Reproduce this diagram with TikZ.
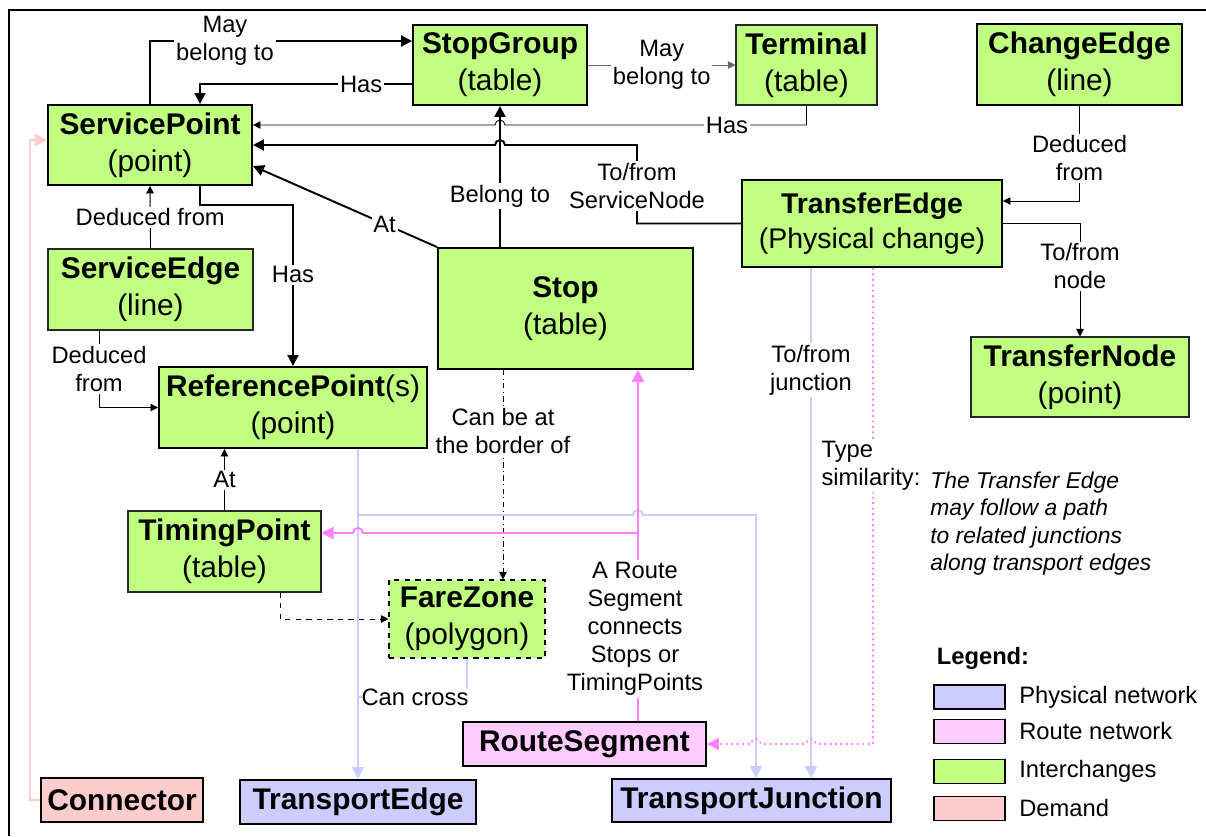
\documentclass[tikz,border=0pt]{standalone}
\usepackage{fontspec}
\setmainfont{Liberation Sans}
\usetikzlibrary{arrows.meta,positioning}

\definecolor{ichg}{RGB}{192,255,128}
\definecolor{phys}{RGB}{204,204,255}
\definecolor{route}{RGB}{255,204,255}
\definecolor{routeline}{RGB}{255,128,255}
\definecolor{demand}{RGB}{255,204,204}

\begin{document}
\begin{tikzpicture}[
  x=0.2mm, y=-0.2mm,
  >={Triangle[length=2.2mm,width=2.2mm]},
  box/.style={draw, line width=1.1pt, fill=ichg, align=center, inner sep=0pt,
              font=\fontsize{17}{21}\selectfont},
  thinbox/.style={box, line width=0.6pt, draw=black!85},
  lbl/.style={fill=white, inner sep=1pt, align=center,
              font=\fontsize{13.5}{16}\selectfont},
  note/.style={inner sep=0pt, align=left, font=\fontsize{13}{15.7}\selectfont\itshape},
  arrow/.style={->, line width=1.1pt},
  thinarrow/.style={-{Triangle[length=1.5mm,width=1.5mm]}, line width=0.5pt},
  physline/.style={line width=1.1pt, draw=phys},
  physarrow/.style={physline, -{Triangle[length=2.4mm,width=2.4mm]}},
  routearrow/.style={line width=1.1pt, draw=routeline, -{Triangle[length=2.4mm,width=2.4mm]}},
  routedot/.style={routearrow, dotted},
  demandarrow/.style={line width=1.1pt, draw=demand, -{Triangle[length=2.4mm,width=2.4mm]}},
  lgbox/.style={draw, line width=1.1pt, minimum width=14.2mm, minimum height=4.8mm, inner sep=0pt},
  lgtxt/.style={inner sep=0pt, font=\fontsize{13.5}{16}\selectfont},
]
  \useasboundingbox (0,0) rectangle (1206,836);
  \draw[line width=1.4pt] (9,836) -- (9,10) -- (1206,10);

  % interchange entities
  \node[box, minimum width=40.8mm, minimum height=16mm] (sp) at (150,145)
    {\textbf{ServicePoint}\\(point)};
  \node[box, minimum width=34.8mm, minimum height=16mm] (sg) at (500,65)
    {\textbf{StopGroup}\\(table)};
  \node[thinbox, minimum width=28.2mm, minimum height=16mm] (term) at (806.5,65)
    {\textbf{Terminal}\\(table)};
  \node[box, minimum width=41mm, minimum height=16.2mm] (chg) at (1079.5,64.5)
    {\textbf{ChangeEdge}\\(line)};
  \node[box, minimum width=52mm, minimum height=17.4mm,
        font=\fontsize{16.2}{20}\selectfont] (tre) at (872,223.5)
    {\textbf{TransferEdge}\\(Physical change)};
  \node[thinbox, minimum width=43.6mm, minimum height=16mm] (trn) at (1080,377)
    {\textbf{TransferNode}\\(point)};
  \node[thinbox, minimum width=41mm, minimum height=16.2mm] (se) at (150.5,289.5)
    {\textbf{ServiceEdge}\\(line)};
  \node[box, minimum width=53.6mm, minimum height=16.2mm] (rp) at (293,407.5)
    {\textbf{ReferencePoint}(s)\\(point)};
  \node[box, minimum width=51mm, minimum height=24.2mm] (stop) at (565.5,308.5)
    {\textbf{Stop}\\(table)};
  \node[thinbox, minimum width=38.6mm, minimum height=16.2mm] (tp) at (224.5,551.5)
    {\textbf{TimingPoint}\\(table)};
  \node[box, line width=0.6pt, dashed, minimum width=31.2mm, minimum height=15.6mm] (fz)
    at (467,619) {\textbf{FareZone}\\(polygon)};

  % network entities
  \node[box, fill=route, minimum width=48.6mm, minimum height=8.8mm] (rs) at (584.5,744)
    {\textbf{RouteSegment}};
  \node[box, fill=demand, minimum width=32.4mm, minimum height=8.8mm] (con) at (122,800)
    {\textbf{Connector}};
  \node[box, fill=phys, minimum width=47.2mm, minimum height=8.8mm] (te) at (358,802)
    {\textbf{TransportEdge}};
  \node[box, fill=phys, minimum width=55.8mm, minimum height=8.6mm] (tj) at (751.5,800.5)
    {\textbf{TransportJunction}};

  % top relations
  \draw[arrow] (sp.north) |- (sg.west |- 0,41)
    node[lbl, pos=0.643] {May\\belong to};
  \draw[arrow] (sg.west |- 0,84) -| (sp.north -| 200,0)
    node[lbl, pos=0.12] {Has};
  \draw[thinarrow, draw=black!60] (sg.east) -- (term.west)
    node[lbl, midway] {May\\belong to};
  \draw[thinarrow] (term.south) |- (505,125)
    arc[start angle=0, end angle=-180, radius=5] -- (sp.east |- 0,125);
  \node[lbl] at (727,125) {Has};
  \draw[arrow] (tre.west) -| (637,145) -- (505,145)
    arc[start angle=0, end angle=-180, radius=5] -- (sp.east |- 0,145);
  \node[lbl] at (637,186) {To/from\\ServiceNode};
  \draw[arrow] (stop.north west) -- (sp.east |- 0,166)
    node[lbl, pos=0.285] {At};
  \draw[arrow] (sg.south |- stop.north) -- (sg.south)
    node[lbl, pos=0.36] {Belong to};
  \draw[arrow] (sp.south -| 200,0) -- (200,205) -| (rp.north)
    node[lbl, pos=0.716] {Has};
  \draw[thinarrow] (se.north) -- (sp.south)
    node[lbl, midway] {Deduced from};
  \draw[thinarrow] (se.south -| 99,0) |- (rp.west)
    node[lbl, pos=0.25] {Deduced\\from};
  \draw[thinarrow] (tp.north) -- (rp.south -| tp.north)
    node[lbl, midway] {At};
  \draw[thinarrow] (chg.south) |- (tre.east |- 0,201)
    node[lbl, pos=0.276] {Deduced\\from};
  \draw[thinarrow] (tre.east) -| (trn.north)
    node[lbl, pos=0.69] {To/from\\node};

  % fare zone
  \draw[thinarrow, dash dot] (stop.south -| 503,0) -- (fz.north -| 503,0)
    node[lbl, pos=0.29] {Can be at\\the border of};
  \draw[thinarrow, dashed] (tp.south -| 280,0) |- (fz.west);

  % physical network
  \draw[physline] (fz.south) -- (fz.south |- 0,697) -- (te.north |- 0,697);
  \node[lbl, inner sep=0pt] at (415,697) {Can cross};
  \draw[physarrow] (rp.south -| te.north) -- (te.north);
  \coordinate (pj) at (358,515);
  \draw[physarrow] (pj) -- (633,515) arc[start angle=180, end angle=360, radius=5]
    -- (756,515) -- (tj.north -| 756,0);
  \draw[physarrow] (tre.south -| 811,0) -- (tj.north -| 811,0)
    node[lbl, pos=0.2] {To/from\\junction};

  % route network
  \draw[routearrow] (rs.north -| 638,0) -- (stop.south -| 638,0);
  \node[lbl] at (635,629) {A Route\\Segment\\connects\\Stops or\\TimingPoints};
  \coordinate (rj) at (638,533);
  \draw[routearrow] (rj) -- (363,533) arc[start angle=0, end angle=-180, radius=5]
    -- (tp.east |- rj);
  \draw[routedot, line width=1pt] (tre.south -| 873,0) -- (873,744) -- (816,744)
    arc[start angle=0, end angle=-180, radius=5] -- (761,744)
    arc[start angle=0, end angle=-180, radius=5] -- (rs.east);
  \node[lbl, align=left] at (871,466) {Type\\similarity:};
  \node[note, anchor=west] (tnote) at (930,523.5)
    {The Transfer Edge\\may follow a path\\to related junctions\\along transport edges};

  % demand
  \draw[demandarrow] (con.west) -| (30,140) -- (sp.west |- 0,140);

  % legend
  \node[lgtxt, font=\fontsize{13.5}{16}\selectfont\bfseries] (lgtitle) at (983,658) {Legend:};
  \node[lgbox, fill=phys] (lgphys) at (969.5,697) {};
  \node[lgtxt, right=2.6mm of lgphys] {Physical network};
  \node[lgbox, fill=route] (lgroute) at (969.5,731.5) {};
  \node[lgtxt, right=2.6mm of lgroute] {Route network};
  \node[lgbox, fill=ichg] (lgichg) at (969.5,771.5) {};
  \node[lgtxt, right=2.6mm of lgichg] {Interchanges};
  \node[lgbox, fill=demand] (lgdem) at (969.5,808.5) {};
  \node[lgtxt, right=2.6mm of lgdem] {Demand};
\end{tikzpicture}
\end{document}
